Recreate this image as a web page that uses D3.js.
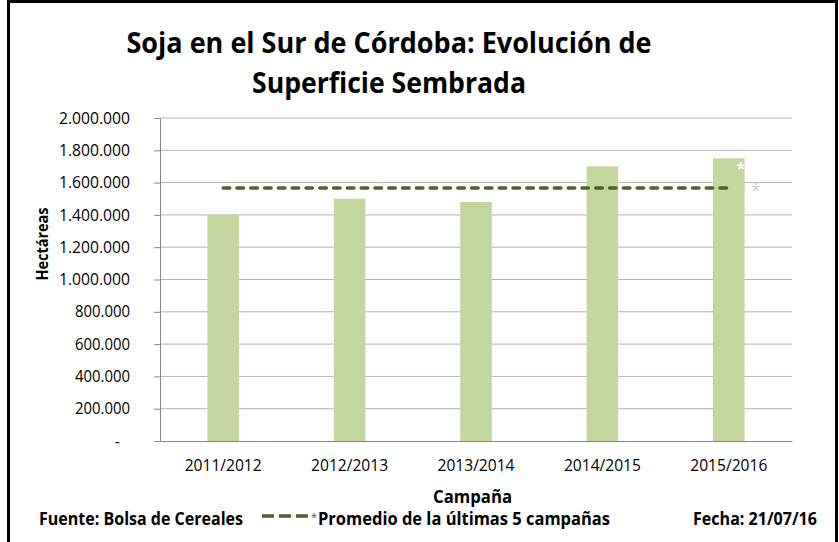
<!DOCTYPE html>
<html>
<head>
<meta charset="utf-8">
<script src="https://cdn.jsdelivr.net/npm/d3@7"></script>
<style>
  body { margin: 0; background: #fff; }
  svg { display: block; font-family: "Open Sans", "Noto Sans", sans-serif; }
</style>
</head>
<body>
<div id="chart"></div>
<script>
// data
var campaigns = ["2011/2012", "2012/2013", "2013/2014", "2014/2015", "2015/2016"];
var hectares = [1400000, 1500000, 1480000, 1700000, 1750000];
var promedio = [1566000, 1566000, 1566000, 1566000, 1566000];
var yTicks = [0, 200000, 400000, 600000, 800000, 1000000, 1200000, 1400000, 1600000, 1800000, 2000000];

var W = 839, H = 542;
var margin = { top: 118, right: 47, bottom: 101, left: 160 },
  width = W - margin.left - margin.right,
  height = H - margin.top - margin.bottom;

var svg = d3.select("#chart")
  .append("svg")
  .attr("width", W)
  .attr("height", H);

// outer frame
svg.append("rect")
  .attr("x", 8.5).attr("y", 1.5)
  .attr("width", 828).attr("height", 600)
  .attr("fill", "none")
  .attr("stroke", "#000")
  .attr("stroke-width", 3);

var g = svg.append("g")
  .attr("transform", "translate(" + margin.left + "," + margin.top + ")");

var x = d3.scaleBand()
  .domain(campaigns)
  .range([0, width])
  .padding(0);

var y = d3.scaleLinear()
  .domain([0, 2000000])
  .range([height, 0]);

var es = d3.formatLocale({ decimal: ",", thousands: ".", grouping: [3], currency: ["$", ""] });
var fmt = es.format(",.0f");

// gridlines
g.append("g")
  .selectAll("line")
  .data(yTicks.slice(1))
  .enter().append("line")
  .attr("x1", 0).attr("x2", width)
  .attr("y1", function (d) { return y(d); })
  .attr("y2", function (d) { return y(d); })
  .attr("stroke", "#b3b3b3")
  .attr("stroke-width", 1);

// y axis
var yAxis = g.append("g")
  .call(d3.axisLeft(y).tickValues(yTicks).tickSize(6).tickPadding(24)
    .tickFormat(function (d) { return d === 0 ? "-" : fmt(d); }));
yAxis.select(".domain").attr("stroke", "#868686");
yAxis.selectAll(".tick line").attr("stroke", "#868686");
yAxis.selectAll(".tick text")
  .attr("fill", "#000")
  .style("font-size", "16px")
  .style("font-family", "'Open Sans', sans-serif");
yAxis.selectAll(".tick text").filter(function (d) { return d === 0; })
  .attr("x", -40);
yAxis.selectAll(".tick text").filter(function (d) { return d !== 0; })
  .attr("textLength", function (d) { return d >= 1000000 ? 71 : 55; })
  .attr("lengthAdjust", "spacingAndGlyphs");

// bars
var barW = x.bandwidth() * 0.25;
g.append("g")
  .selectAll("rect")
  .data(hectares)
  .enter().append("rect")
  .attr("x", function (d, i) { return x(campaigns[i]) + x.bandwidth() / 2 - barW / 2; })
  .attr("y", function (d) { return y(d); })
  .attr("width", barW)
  .attr("height", function (d) { return y(0) - y(d); })
  .attr("fill", "#c3d69b");

// x axis
var xAxis = g.append("g")
  .attr("transform", "translate(0," + height + ")")
  .call(d3.axisBottom(x).tickSize(0).tickPadding(19));
xAxis.select(".domain").attr("stroke", "#868686");
xAxis.selectAll(".tick text")
  .attr("fill", "#000")
  .style("font-size", "16px")
  .style("font-family", "'Open Sans', sans-serif")
  .attr("textLength", 77)
  .attr("lengthAdjust", "spacingAndGlyphs");

// average line
var line = d3.line()
  .x(function (d, i) { return x(campaigns[i]) + x.bandwidth() / 2; })
  .y(function (d) { return y(d); });
g.append("path")
  .datum(promedio)
  .attr("d", line)
  .attr("fill", "none")
  .attr("stroke", "#4f6228")
  .attr("stroke-width", 3.5)
  .attr("stroke-linecap", "round")
  .attr("stroke-dasharray", "6.5,7.3");

// little star markers near the last point
var last = campaigns.length - 1;
g.append("text")
  .attr("x", x(campaigns[last]) + x.bandwidth() / 2 + 27)
  .attr("y", y(promedio[last]) + 9)
  .attr("text-anchor", "middle")
  .attr("fill", "#cfcfcf")
  .style("font-size", "18px")
  .text("*");
g.append("text")
  .attr("x", x(campaigns[last]) + x.bandwidth() / 2 + 12)
  .attr("y", y(hectares[last]) + 16)
  .attr("text-anchor", "middle")
  .attr("fill", "#fff")
  .style("font-size", "16px")
  .style("font-weight", "bold")
  .text("*");

// helper to squeeze text to the measured width
function fit(sel, w) {
  sel.attr("textLength", w).attr("lengthAdjust", "spacingAndGlyphs");
  return sel;
}

// title
fit(svg.append("text")
  .attr("x", 389).attr("y", 52.5)
  .attr("text-anchor", "middle")
  .style("font-size", "28px").style("font-weight", "bold")
  .text("Soja en el Sur de Córdoba: Evolución de"), 525);
fit(svg.append("text")
  .attr("x", 389).attr("y", 93)
  .attr("text-anchor", "middle")
  .style("font-size", "28px").style("font-weight", "bold")
  .text("Superficie Sembrada"), 274);

// axis titles
fit(svg.append("text")
  .attr("transform", "translate(47.5,244) rotate(-90)")
  .attr("text-anchor", "middle")
  .style("font-size", "16.5px").style("font-weight", "bold")
  .text("Hectáreas"), 73);
fit(svg.append("text")
  .attr("x", 472.5).attr("y", 503)
  .attr("text-anchor", "middle")
  .style("font-size", "17px").style("font-weight", "bold")
  .text("Campaña"), 79);

// footer
fit(svg.append("text")
  .attr("x", 39).attr("y", 525)
  .style("font-size", "17px").style("font-weight", "bold")
  .text("Fuente: Bolsa de Cereales"), 204);

svg.append("line")
  .attr("x1", 262).attr("x2", 312)
  .attr("y1", 516).attr("y2", 516)
  .attr("stroke", "#4f6228")
  .attr("stroke-width", 3.5)
  .attr("stroke-dasharray", "12,5");
svg.append("text")
  .attr("x", 314).attr("y", 521)
  .attr("text-anchor", "middle")
  .style("font-size", "11px")
  .attr("fill", "#4f6228")
  .text("*");
fit(svg.append("text")
  .attr("x", 318).attr("y", 525)
  .style("font-size", "17px").style("font-weight", "bold")
  .text("Promedio de la últimas 5 campañas"), 292);

fit(svg.append("text")
  .attr("x", 693).attr("y", 525)
  .style("font-size", "17px").style("font-weight", "bold")
  .text("Fecha: 21/07/16"), 124);
</script>
</body>
</html>
